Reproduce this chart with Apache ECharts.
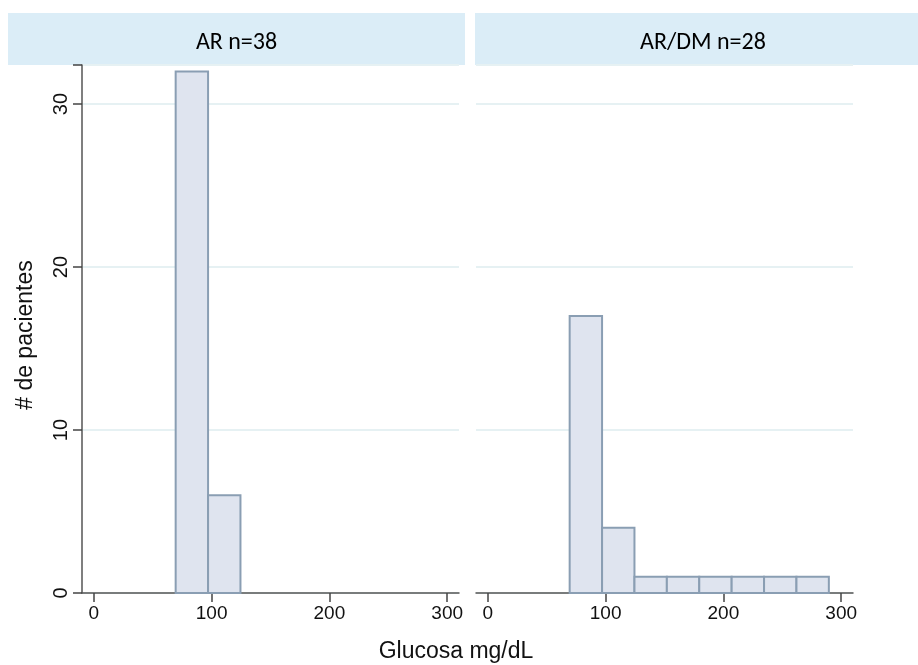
<!DOCTYPE html>
<html><head><meta charset="utf-8">
<script src="https://cdn.jsdelivr.net/npm/echarts@6/dist/echarts.min.js"></script>
<style>html,body{margin:0;padding:0;background:#fff}#c{width:918px;height:665px}</style>
</head><body><div id="c"></div>
<script>
const panelTitles = ['AR n=38', 'AR/DM n=28'];
const binEdges = [69.5, 97, 124.5, 152, 179.5, 207, 234.5, 262, 289.5];
const leftCounts = [32, 6];
const rightCounts = [17, 4, 1, 1, 1, 1, 1, 1];
const xTicks = [0, 100, 200, 300];
const yTicks = [0, 10, 20, 30];
const xTitle = 'Glucosa mg/dL';
const yTitle = '# de pacientes';

function toData(counts){ return counts.map((c,i)=>[binEdges[i], binEdges[i+1], c]); }
function renderItem(params, api){
  const p0 = api.coord([api.value(0), api.value(2)]);
  const p1 = api.coord([api.value(1), 0]);
  return {type:'rect', shape:{x:p0[0], y:p0[1], width:p1[0]-p0[0], height:p1[1]-p0[1]},
    style:{fill:'#dfe4ef', stroke:'#8a9eb3', lineWidth:2}};
}
const fontAx = 'Liberation Sans, Arial, sans-serif';
function xAxis(idx){
  return {type:'value', gridIndex:idx, min:-10, max:310,
    axisLine:{show:true, onZero:false, lineStyle:{color:'#555', width:1.5}},
    axisTick:{show:true, customValues:xTicks, length:9, lineStyle:{color:'#444', width:1.5}},
    axisLabel:{customValues:xTicks, color:'#111', fontSize:19, fontFamily:fontAx, margin:11},
    splitLine:{show:false}};
}
function yAxis(idx, show){
  return {type:'value', gridIndex:idx, min:0, max:32.4, interval:10,
    axisLine:{show:show, onZero:false, lineStyle:{color:'#555', width:1.5}},
    axisTick:{show:show, length:9, lineStyle:{color:'#444', width:1.5}},
    axisLabel:{show:show, rotate:90, color:'#111', fontSize:20, fontFamily:fontAx, margin:11,
      formatter:v=> yTicks.includes(v)? String(v):''},
    splitLine:{show:true, lineStyle:{color:'#e6f1f3', width:2}}};
}
const chart = echarts.init(document.getElementById('c'));
chart.setOption({
  animation:false,
  grid:[{left:82, right:459, top:65, bottom:72},{left:476, right:65, top:65, bottom:72}],
  xAxis:[xAxis(0), xAxis(1)],
  yAxis:[yAxis(0,true), yAxis(1,false)],
  series:[
    {type:'custom', xAxisIndex:0, yAxisIndex:0, renderItem, data:toData(leftCounts), encode:{x:[0,1], y:2}},
    {type:'custom', xAxisIndex:1, yAxisIndex:1, renderItem, data:toData(rightCounts), encode:{x:[0,1], y:2}}
  ],
  graphic:[
    {type:'rect', shape:{x:8, y:13, width:457, height:52}, style:{fill:'#dbedf7'}},
    {type:'rect', shape:{x:475, y:13, width:450, height:52}, style:{fill:'#dbedf7'}},
    {type:'text', x:236.5, y:43, style:{text:panelTitles[0], fontSize:24, fontFamily:'Carlito, Lato, sans-serif', fill:'#000', align:'center', verticalAlign:'middle'}},
    {type:'text', x:703, y:43, style:{text:panelTitles[1], fontSize:24, fontFamily:'Carlito, Lato, sans-serif', fill:'#000', align:'center', verticalAlign:'middle'}},
    {type:'text', x:456, y:652, style:{text:xTitle, fontSize:23, fontFamily:fontAx, fill:'#111', align:'center', verticalAlign:'middle'}},
    {type:'text', x:26, y:335, rotation:Math.PI/2, style:{text:yTitle, fontSize:23, fontFamily:fontAx, fill:'#111', align:'center', verticalAlign:'middle'}}
  ]
});
</script></body></html>
